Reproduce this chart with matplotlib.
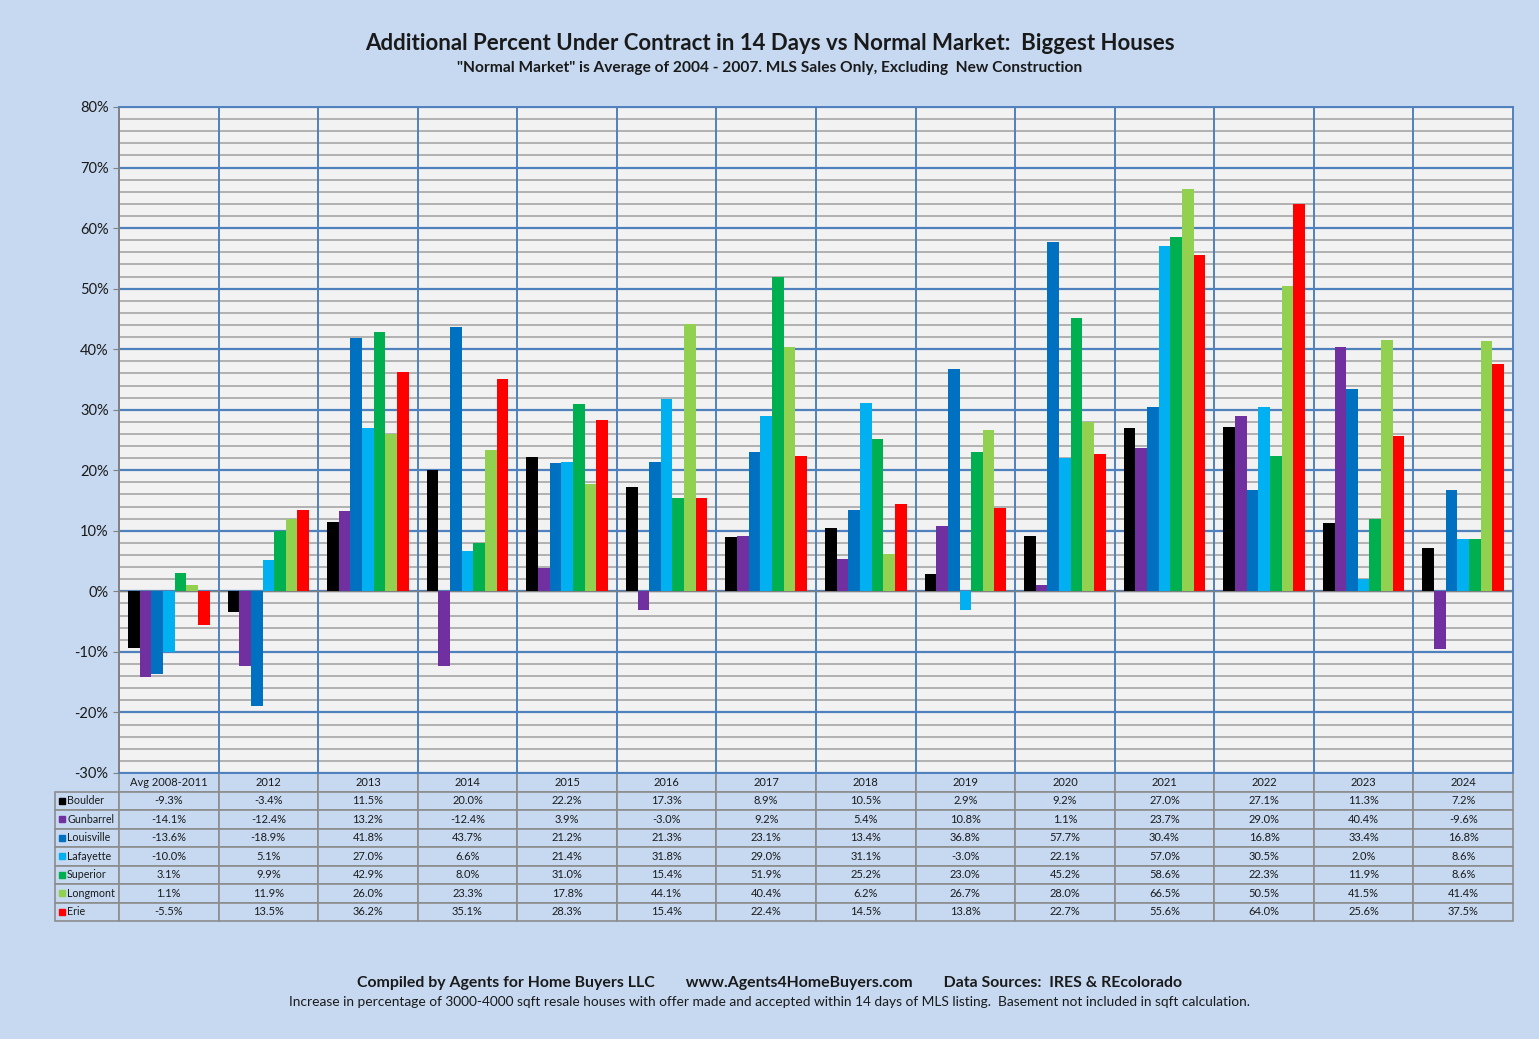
import numpy as np
import matplotlib.pyplot as plt
from matplotlib.ticker import MultipleLocator, PercentFormatter

plt.rcParams['font.family'] = ['Lato', 'DejaVu Sans']
plt.rcParams['axes.unicode_minus'] = False

categories = ['Avg 2008-2011', '2012', '2013', '2014', '2015', '2016', '2017',
              '2018', '2019', '2020', '2021', '2022', '2023', '2024']
towns = ['Boulder', 'Gunbarrel', 'Louisville', 'Lafayette', 'Superior', 'Longmont', 'Erie']
colors = ['#000000', '#7030a0', '#0070c0', '#00b0f0', '#00b050', '#92d050', '#ff0000']

boulder = [-9.3, -3.4, 11.5, 20.0, 22.2, 17.3, 8.9, 10.5, 2.9, 9.2, 27.0, 27.1, 11.3, 7.2]
gunbarrel = [-14.1, -12.4, 13.2, -12.4, 3.9, -3.0, 9.2, 5.4, 10.8, 1.1, 23.7, 29.0, 40.4, -9.6]
louisville = [-13.6, -18.9, 41.8, 43.7, 21.2, 21.3, 23.1, 13.4, 36.8, 57.7, 30.4, 16.8, 33.4, 16.8]
lafayette = [-10.0, 5.1, 27.0, 6.6, 21.4, 31.8, 29.0, 31.1, -3.0, 22.1, 57.0, 30.5, 2.0, 8.6]
superior = [3.1, 9.9, 42.9, 8.0, 31.0, 15.4, 51.9, 25.2, 23.0, 45.2, 58.6, 22.3, 11.9, 8.6]
longmont = [1.1, 11.9, 26.0, 23.3, 17.8, 44.1, 40.4, 6.2, 26.7, 28.0, 66.5, 50.5, 41.5, 41.4]
erie = [-5.5, 13.5, 36.2, 35.1, 28.3, 15.4, 22.4, 14.5, 13.8, 22.7, 55.6, 64.0, 25.6, 37.5]
series = [boulder, gunbarrel, louisville, lafayette, superior, longmont, erie]

bg = '#c6d9f1'
W, H = 1539, 1039
fig = plt.figure(figsize=(W / 100, H / 100), dpi=100, facecolor=bg)
ax = fig.add_axes([119 / W, 1 - 773 / H, (1513 - 119) / W, (773 - 107) / H])
ax.set_facecolor('#f2f2f2')

x = np.arange(len(categories))
bw = 0.117
for i, (vals, c) in enumerate(zip(series, colors)):
    ax.bar(x + (i - 3) * bw, vals, width=bw, color=c, zorder=3)

ax.set_xlim(-0.5, len(categories) - 0.5)
ax.set_ylim(-30, 80)
ax.yaxis.set_major_locator(MultipleLocator(10))
ax.yaxis.set_minor_locator(MultipleLocator(2))
ax.yaxis.set_major_formatter(PercentFormatter(decimals=0))
ax.grid(which='minor', axis='y', color='#a6a6a6', lw=1.2, zorder=1)
ax.grid(which='major', axis='y', color='#4f81bd', lw=1.6, zorder=2)
for b in np.arange(0.5, len(categories) - 0.5, 1):
    ax.axvline(b, color='#4f81bd', lw=1.4, zorder=2)
ax.axhline(0, color='#808080', lw=1, zorder=2.5)
ax.set_xticks([])
ax.tick_params(axis='y', which='major', labelsize=10.5, length=4, color='#808080', labelcolor='#1a1a1a')
ax.tick_params(axis='y', which='minor', length=0)
for s in ['top', 'right', 'bottom']:
    ax.spines[s].set_color('#4f81bd')
    ax.spines[s].set_linewidth(1.4)
ax.spines['left'].set_color('#808080')
ax.spines['left'].set_linewidth(1.4)

# data table under the chart, first column holds the town names
cell_text = [[''] + ['%.1f%%' % v for v in vals] for vals in series]
lab_w = 64 / 1394
colw = 1.0 / len(categories)
tbl_h = (921 - 773) / 666
tbl = ax.table(cellText=cell_text, colLabels=[''] + categories,
               colWidths=[lab_w] + [colw] * len(categories), cellLoc='center',
               bbox=[-lab_w, -tbl_h, 1 + lab_w, tbl_h])
tbl.auto_set_font_size(False)
tbl.set_fontsize(8)
for (r, c), cell in tbl.get_celld().items():
    cell.set_facecolor(bg)
    cell.set_edgecolor('#8c8c8c')
    cell.set_linewidth(1.2)
    cell.get_text().set_color('#1a1a1a')
    if c == 0 and r == 0:
        cell.set_visible(False)

# town names with their colour keys
row_h = tbl_h / (len(towns) + 1)
for i, (t, c) in enumerate(zip(towns, colors)):
    yy = -(i + 1.5) * row_h
    ax.plot(-(119 - 62) / 1394, yy, marker='s', ms=4.5, color=c, transform=ax.transAxes,
            clip_on=False, zorder=5)
    ax.text(-(119 - 67) / 1394, yy, t, transform=ax.transAxes, ha='left', va='center',
            fontsize=7.7, color='#1a1a1a')

fig.text(0.5, 1 - 44 / H, 'Additional Percent Under Contract in 14 Days vs Normal Market:  Biggest Houses',
         ha='center', va='center', fontsize=16, fontweight='bold', color='#1a1a1a')
fig.text(0.5, 1 - 68 / H, '"Normal Market" is Average of 2004 - 2007. MLS Sales Only, Excluding  New Construction',
         ha='center', va='center', fontsize=11.2, fontweight='bold', color='#1a1a1a')
fig.text(0.5, 1 - 983 / H,
         'Compiled by Agents for Home Buyers LLC        www.Agents4HomeBuyers.com        Data Sources:  IRES & REcolorado',
         ha='center', va='center', fontsize=11.4, fontweight='bold', color='#1a1a1a')
fig.text(0.5, 1 - 1002 / H,
         'Increase in percentage of 3000-4000 sqft resale houses with offer made and accepted within 14 days of MLS listing.  Basement not included in sqft calculation.',
         ha='center', va='center', fontsize=9.9, color='#1a1a1a')

fig.savefig('out.png', dpi=100, facecolor=bg)
